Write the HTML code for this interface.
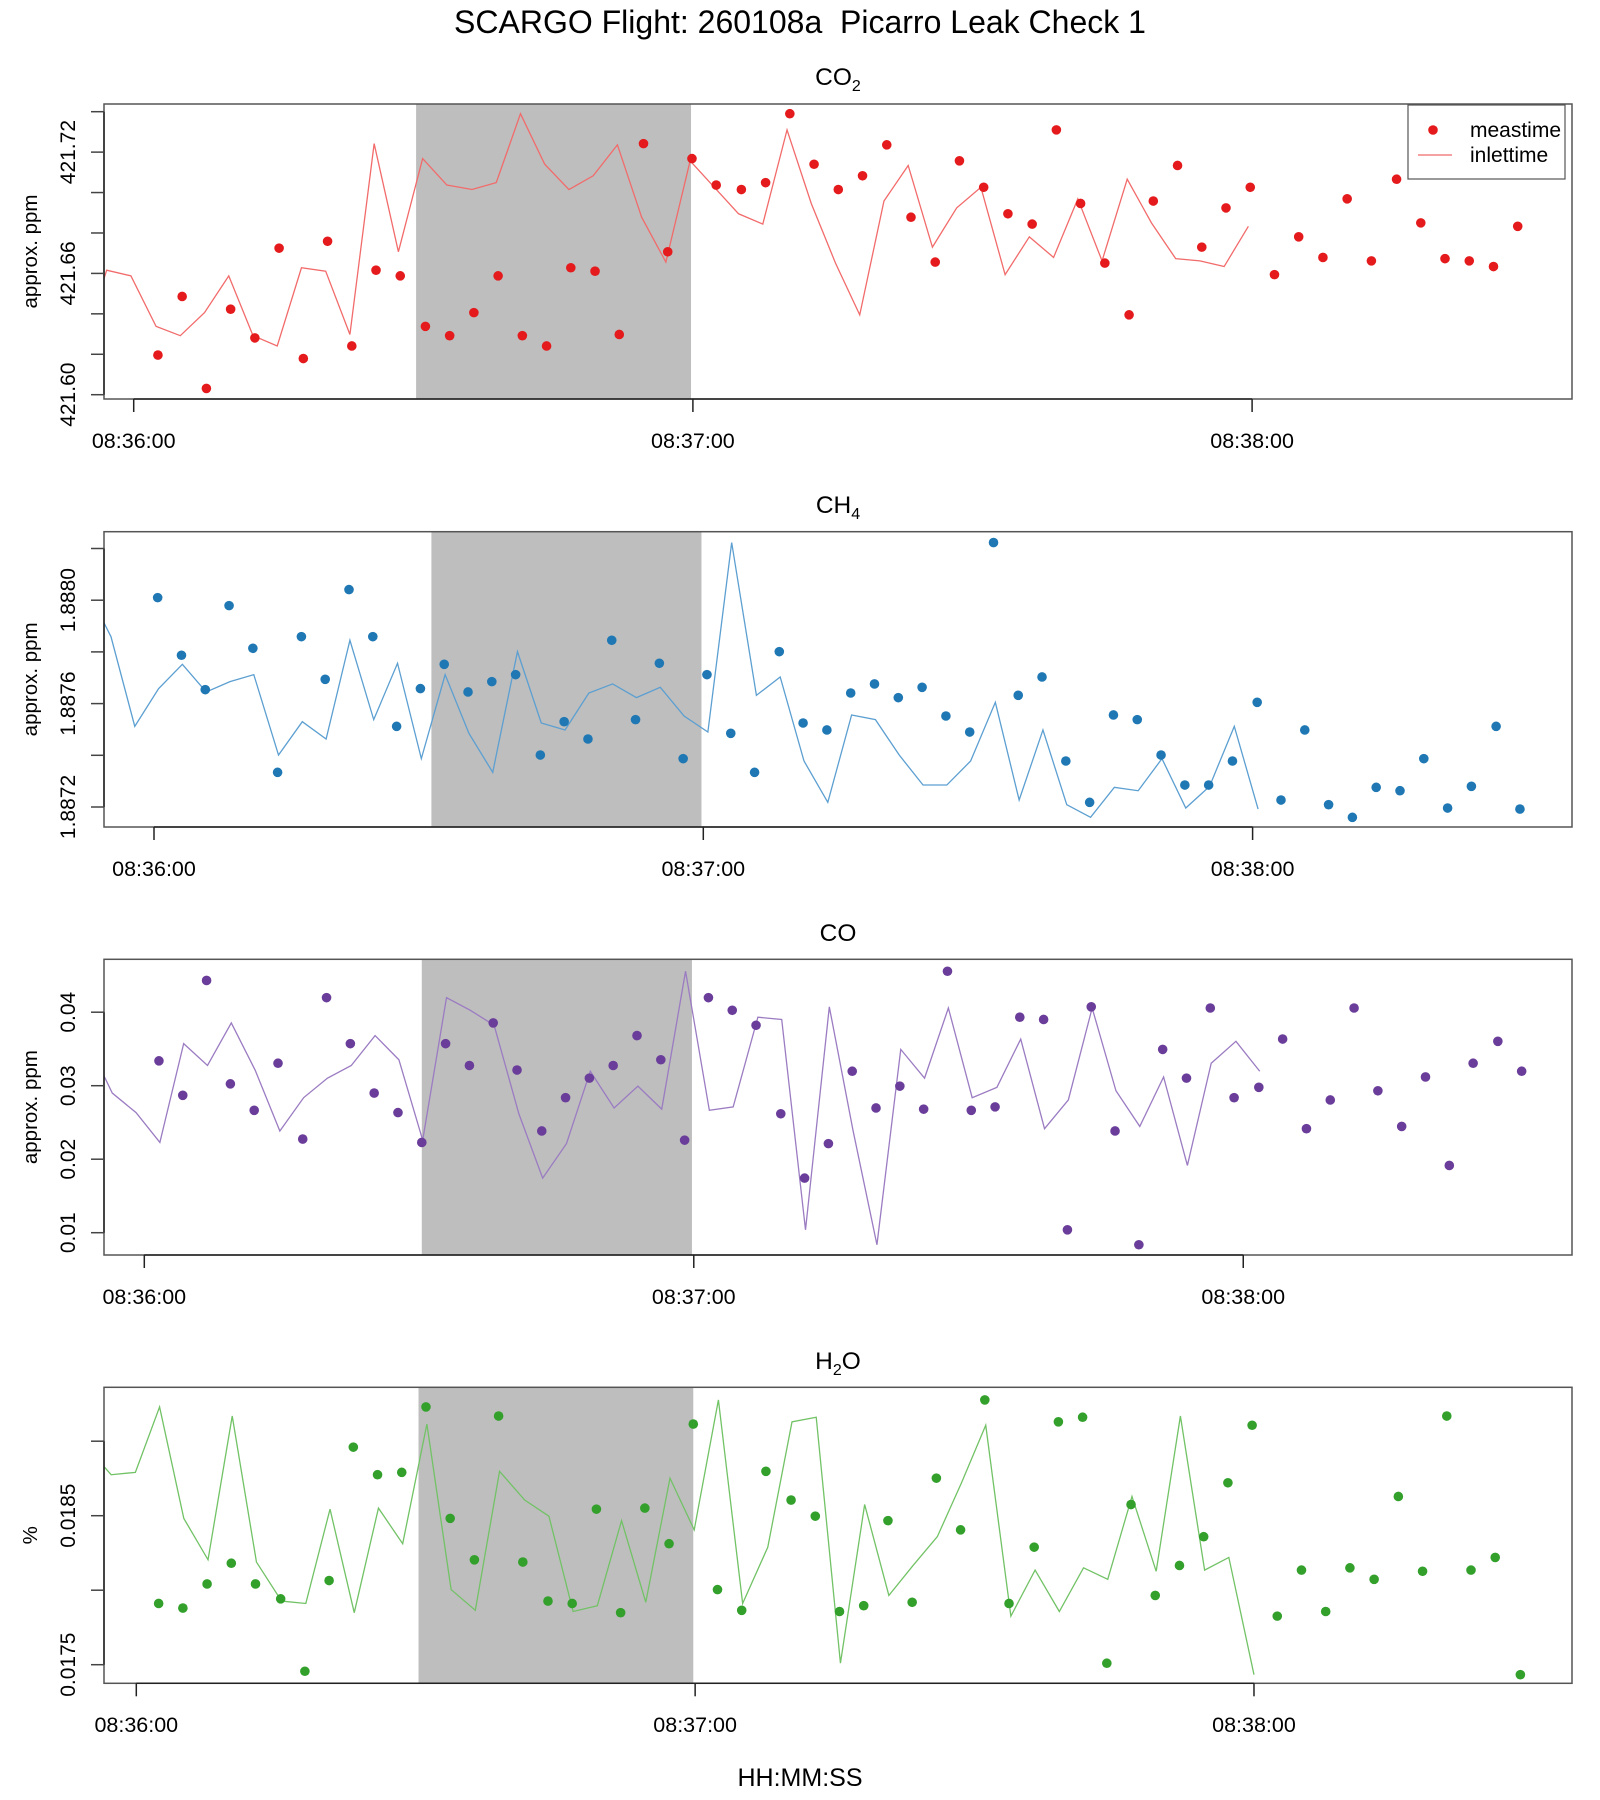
<!DOCTYPE html>
<html><head><meta charset="utf-8"><style>
html,body{margin:0;padding:0;background:#fff}
svg{display:block;font-family:"Liberation Sans",Arial,sans-serif}
</style></head><body>
<svg id="chart" width="1600" height="1800" viewBox="0 0 1600 1800" xmlns="http://www.w3.org/2000/svg">
<rect x="0" y="0" width="1600" height="1800" fill="#fff"/>
<text x="800" y="33" font-size="32" text-anchor="middle" fill="#000">SCARGO Flight: 260108a&#160; Picarro Leak Check 1</text>
<text x="800" y="1786" font-size="25" text-anchor="middle" fill="#000">HH:MM:SS</text>
</svg>
<script>
// ---- data ----
const co2Times = [2.6,5.2,7.8,10.4,13.0,15.6,18.2,20.8,23.4,26.0,28.6,31.3,33.9,36.5,39.1,41.7,44.3,46.9,49.5,52.1,54.7,57.3,59.9,62.5,65.2,67.8,70.4,73.0,75.6,78.2,80.8,83.4,86.0,88.6,91.2,93.8,96.4,99.0,101.6,104.2,106.8,109.4,112.0,114.6,117.2,119.8,122.4,125.0,127.6,130.2,132.8,135.5,138.1,140.7,143.3,145.9,148.5];
const co2Values = [421.6196,421.6486,421.6031,421.6423,421.6281,421.6725,421.6179,421.6759,421.6241,421.6616,421.6588,421.6338,421.6292,421.6406,421.6588,421.6292,421.6241,421.6628,421.6611,421.6298,421.7242,421.6707,421.7168,421.7037,421.7015,421.7049,421.7390,421.7140,421.7015,421.7083,421.7236,421.6878,421.6656,421.7157,421.7026,421.6895,421.6844,421.7310,421.6946,421.6651,421.6395,421.6958,421.7134,421.6730,421.6924,421.7026,421.6594,421.6781,421.6679,421.6969,421.6662,421.7066,421.6850,421.6673,421.6662,421.6634,421.6833];
const ch4Times = [0.4,3.0,5.6,8.2,10.8,13.5,16.1,18.7,21.3,23.9,26.5,29.1,31.7,34.3,36.9,39.5,42.2,44.8,47.4,50.0,52.6,55.2,57.8,60.4,63.0,65.6,68.3,70.9,73.5,76.1,78.7,81.3,83.9,86.5,89.1,91.7,94.4,97.0,99.6,102.2,104.8,107.4,110.0,112.6,115.2,117.8,120.5,123.1,125.7,128.3,130.9,133.5,136.1,138.7,141.3,143.9,146.6,149.2];
const ch4Values = [1.888010,1.887787,1.887654,1.887979,1.887814,1.887334,1.887859,1.887694,1.888041,1.887859,1.887512,1.887658,1.887752,1.887645,1.887685,1.887712,1.887401,1.887530,1.887463,1.887845,1.887538,1.887756,1.887387,1.887712,1.887485,1.887334,1.887801,1.887525,1.887498,1.887641,1.887676,1.887623,1.887663,1.887552,1.887490,1.888223,1.887632,1.887703,1.887378,1.887218,1.887556,1.887538,1.887401,1.887285,1.887285,1.887378,1.887605,1.887227,1.887498,1.887209,1.887160,1.887276,1.887263,1.887387,1.887196,1.887280,1.887512,1.887192];
const coTimes = [1.6,4.2,6.8,9.4,12.0,14.6,17.3,19.9,22.5,25.1,27.7,30.3,32.9,35.5,38.1,40.7,43.4,46.0,48.6,51.2,53.8,56.4,59.0,61.6,64.2,66.8,69.5,72.1,74.7,77.3,79.9,82.5,85.1,87.7,90.3,92.9,95.6,98.2,100.8,103.4,106.0,108.6,111.2,113.8,116.4,119.0,121.7,124.3,126.9,129.5,132.1,134.7,137.3,139.9,142.5,145.1,147.8,150.4];
const coValues = [0.03338,0.02869,0.04432,0.03025,0.02665,0.03306,0.02274,0.04198,0.03572,0.02900,0.02634,0.02228,0.03572,0.03275,0.03854,0.03213,0.02384,0.02837,0.03103,0.03275,0.03682,0.03353,0.02259,0.04198,0.04026,0.03822,0.02618,0.01743,0.02212,0.03197,0.02697,0.02994,0.02681,0.04557,0.02665,0.02712,0.03932,0.03901,0.01039,0.04073,0.02384,0.00836,0.03494,0.03103,0.04057,0.02837,0.02978,0.03635,0.02415,0.02806,0.04057,0.02931,0.02446,0.03119,0.01915,0.03306,0.03604,0.03197];
const h2oTimes = [2.4,5.0,7.6,10.2,12.8,15.5,18.1,20.7,23.3,25.9,28.5,31.1,33.7,36.3,38.9,41.5,44.2,46.8,49.4,52.0,54.6,57.2,59.8,62.4,65.0,67.6,70.3,72.9,75.5,78.1,80.7,83.3,85.9,88.5,91.1,93.7,96.4,99.0,101.6,104.2,106.8,109.4,112.0,114.6,117.2,119.8,122.5,125.1,127.7,130.3,132.9,135.5,138.1,140.7,143.3,145.9,148.6];
const h2oValues = [0.017911,0.017880,0.018042,0.018181,0.018042,0.017942,0.017456,0.018065,0.018960,0.018775,0.018791,0.019230,0.018482,0.018204,0.019169,0.018189,0.017927,0.017911,0.018544,0.017849,0.018551,0.018312,0.019115,0.018004,0.017865,0.018798,0.018605,0.018497,0.017857,0.017896,0.018467,0.017919,0.018752,0.018405,0.019277,0.017911,0.018289,0.019130,0.019161,0.017510,0.018575,0.017965,0.018166,0.018359,0.018721,0.019107,0.017826,0.018135,0.017857,0.018150,0.018073,0.018629,0.018127,0.019169,0.018135,0.018220,0.017433];
const lagSeconds = [28.9, 28.6, 28.6, 28.6];
const leakWindow = [30.3, 59.8];
const xTickSeconds = [0, 60, 120];
const xTickLabels = ["08:36:00", "08:37:00", "08:38:00"];
const co2Ticks = [421.60,421.62,421.64,421.66,421.68,421.70,421.72,421.74];
const co2TickLabels = ["421.60","","","421.66","","","421.72",""];
const ch4Ticks = [1.8872,1.8874,1.8876,1.8878,1.8880,1.8882];
const ch4TickLabels = ["1.8872","","1.8876","","1.8880",""];
const coTicks = [0.01,0.02,0.03,0.04];
const coTickLabels = ["0.01","0.02","0.03","0.04"];
const h2oTicks = [0.0175,0.0180,0.0185,0.0190];
const h2oTickLabels = ["0.0175","","0.0185",""];

const NS = "http://www.w3.org/2000/svg";
const svg = document.getElementById('chart');
function mk(tag, attrs, parent){
  const e = document.createElementNS(NS, tag);
  for (const k in attrs) e.setAttribute(k, attrs[k]);
  (parent||svg).appendChild(e);
  return e;
}
const L = 104, R = 1572;
const panels = [
  {key:'co2', title:['CO','2'], ylab:'approx. ppm', top:104, bot:399, x0:133.7, pps:9.32,
   ty:v=>394.7-(v-421.60)/0.02*40.43, times:co2Times, vals:co2Values, ticks:co2Ticks, tl:co2TickLabels,
   pt:'#e41a1c', ln:'#f26b6b', titleY:85, xlabY:448, legend:true},
  {key:'ch4', title:['CH','4'], ylab:'approx. ppm', top:531.7, bot:827, x0:154, pps:9.155,
   ty:v=>807-(v-1.8872)/0.0002*51.7, times:ch4Times, vals:ch4Values, ticks:ch4Ticks, tl:ch4TickLabels,
   pt:'#1f78b4', ln:'#5c9fd1', titleY:513, xlabY:876},
  {key:'co', title:['CO',''], ylab:'approx. ppm', top:959.3, bot:1255, x0:144.3, pps:9.158,
   ty:v=>1232.7-(v-0.01)/0.01*73.5, times:coTimes, vals:coValues, ticks:coTicks, tl:coTickLabels,
   pt:'#6a3d9a', ln:'#9b7cc2', titleY:941, xlabY:1304},
  {key:'h2o', title:['H','2','O'], ylab:'%', top:1387.3, bot:1683.3, x0:136.3, pps:9.314,
   ty:v=>1664.7-(v-0.0175)/0.0005*74.5, times:h2oTimes, vals:h2oValues, ticks:h2oTicks, tl:h2oTickLabels,
   pt:'#33a02c', ln:'#72c266', titleY:1369, xlabY:1732}
];
const defs = mk('defs', {});
panels.forEach((p, pi) => {
  const g = mk('g', {});
  
  
  const tx = t => p.x0 + t * p.pps;
  const cp = mk('clipPath', {id:'clip'+pi}, defs);
  mk('rect', {x:L, y:p.top, width:R-L, height:p.bot-p.top}, cp);
  const band = mk('rect', {x:tx(leakWindow[0]), y:p.top, width:tx(leakWindow[1])-tx(leakWindow[0]), height:p.bot-p.top, fill:'#bebebe'}, g);
  
  
  const d = p.times.map((t,i)=>(i?'L':'M')+tx(t-lagSeconds[pi]).toFixed(2)+','+p.ty(p.vals[i]).toFixed(2)).join('');
  const line = mk('path', {d:d, fill:'none', stroke:p.ln, 'stroke-width':1.3, 'clip-path':'url(#clip'+pi+')'}, g);
  
  
  p.times.forEach((t,i)=>{
    const c = mk('circle', {cx:tx(t).toFixed(2), cy:p.ty(p.vals[i]).toFixed(2), r:4.8, fill:p.pt, 'clip-path':'url(#clip'+pi+')'}, g);
    
    
  });
  const box = mk('rect', {x:L, y:p.top, width:R-L, height:p.bot-p.top, fill:'none', stroke:'#555', 'stroke-width':1.5}, g);
  
  
  const xa = mk('g', {}, g);
  
  
  mk('line', {x1:tx(xTickSeconds[0]), x2:tx(xTickSeconds[xTickSeconds.length-1]), y1:p.bot, y2:p.bot, stroke:'#222', 'stroke-width':1.5}, xa);
  xTickSeconds.forEach((s,i)=>{
    mk('line', {x1:tx(s), x2:tx(s), y1:p.bot, y2:p.bot+13, stroke:'#222', 'stroke-width':1.5}, xa);
    const t = mk('text', {x:tx(s), y:p.xlabY, 'font-size':21.5, 'text-anchor':'middle', fill:'#000'}, xa);
    t.textContent = xTickLabels[i];
    
    
  });
  const ya = mk('g', {}, g);
  
  
  mk('line', {x1:L, x2:L, y1:p.ty(p.ticks[0]), y2:p.ty(p.ticks[p.ticks.length-1]), stroke:'#222', 'stroke-width':1.5}, ya);
  p.ticks.forEach((v,i)=>{
    const y = p.ty(v);
    mk('line', {x1:L-13, x2:L, y1:y, y2:y, stroke:'#444', 'stroke-width':1.5}, ya);
    if (p.tl[i]) {
      const t = mk('text', {x:0, y:0, 'font-size':21, 'text-anchor':'middle', fill:'#000', transform:'translate(75,'+y.toFixed(2)+') rotate(-90)'}, ya);
      t.textContent = p.tl[i];
      
      
    }
  });
  const mid = (p.top + p.bot) / 2;
  const yt = mk('text', {x:0, y:0, 'font-size':20.5, 'text-anchor':'middle', fill:'#000', transform:'translate(37,'+mid+') rotate(-90)'}, g);
  yt.textContent = p.ylab;
  
  
  const tt = mk('text', {x:838, y:p.titleY, 'font-size':24.5, 'text-anchor':'middle', fill:'#000'}, g);
  
  
  const s1 = mk('tspan', {}, tt); s1.textContent = p.title[0];
  if (p.title[1]) { const s2 = mk('tspan', {'font-size':16, dy:6}, tt); s2.textContent = p.title[1]; }
  if (p.title[2]) { const s3 = mk('tspan', {dy:-6}, tt); s3.textContent = p.title[2]; }
  if (p.legend) {
    const lg = mk('g', {}, g);
    
    
    mk('rect', {x:1408, y:105, width:157, height:74, fill:'#fff', stroke:'#555', 'stroke-width':1.2}, lg);
    const e1 = mk('g', {}, lg);
    
    
    mk('circle', {cx:1433, cy:130, r:4.8, fill:p.pt}, e1);
    const l1 = mk('text', {x:1470, y:137, 'font-size':21, fill:'#000'}, e1); l1.textContent = 'meastime';
    const e2 = mk('g', {}, lg);
    
    
    mk('line', {x1:1418, x2:1452, y1:155, y2:155, stroke:p.ln, 'stroke-width':1.3}, e2);
    const l2 = mk('text', {x:1470, y:162, 'font-size':21, fill:'#000'}, e2); l2.textContent = 'inlettime';
  }
});
</script>
</body></html>
